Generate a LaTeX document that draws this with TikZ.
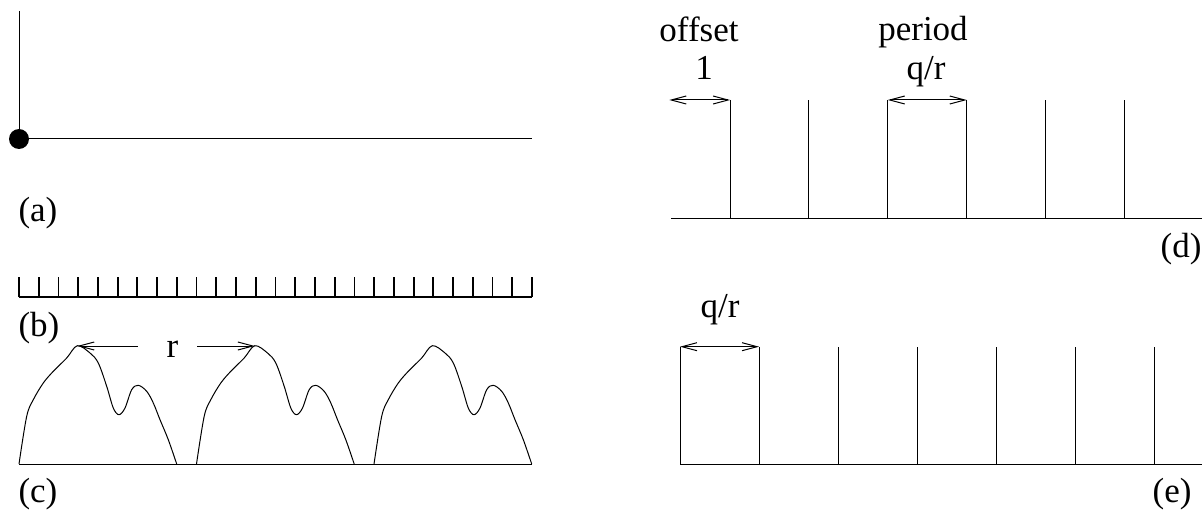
\documentclass[tikz,border=0pt]{standalone}
\usepackage{fontspec}
\setmainfont{Liberation Serif}
\usepackage{tikz}
\usetikzlibrary{arrows.meta}
\tikzset{
  barb/.style={-{Straight Barb[length=7.5pt,width=4pt]}},
  dimline/.style={{Straight Barb[length=7.5pt,width=4pt]}-{Straight Barb[length=7.5pt,width=4pt]}},
  lbl/.style={anchor=base,inner sep=0pt},
  ruler/.style={line width=0.9pt},
}
\begin{document}
\begin{tikzpicture}[x=0.5pt,y=-0.5pt,line width=0.5pt,font=\fontsize{17.5}{21}\selectfont]
\useasboundingbox (0,0) rectangle (1202,513);
% (a) axes
\begin{scope}
\coordinate (o) at (19,139);
\draw (19,11) -- (o) -- (532,139);
\fill (o) circle (5pt);
\node[lbl,anchor=base west] (la) at (18,221) {(a)};
\end{scope}
% (b) ruler
\begin{scope}
\draw[ruler] (19,297) -- (532,297);
\foreach \i in {0,...,26}
  \draw[ruler] (19+19.73*\i,297) -- ++(0,-20);
\node[lbl,anchor=base west] (lb) at (18,336) {(b)};
\end{scope}
% (c) periodic humps
\begin{scope}
\draw (19,464) -- (532,464);
\foreach \k in {0,1,2}
  \draw[shift={(19+177.5*\k,464)}] plot[smooth,tension=0.55] coordinates
    {(0,0) (7.7,-47.7) (14.3,-64.3) (24.3,-81) (34.3,-92.7) (47.7,-106) (58.3,-118.3)
     (71,-111) (79.3,-101) (87.7,-77.7) (94.3,-56) (100,-49.3) (106,-56) (112.7,-74.3)
     (119.3,-78.7) (127.7,-72.7) (134.3,-61) (141,-44.3) (149.3,-24.3) (157.7,0)};
\coordinate (peakA) at (77.3,346);
\coordinate (peakB) at (254.8,346);
\coordinate (rL) at (137.7,346);
\coordinate (rR) at (197.3,346);
\node[lbl] (rlab) at (172.5,357) {r};
\draw[barb] (rL) -- (peakA);
\draw[barb] (rR) -- (peakB);
\node[lbl,anchor=base west] (lc) at (18,502.6) {(c)};
\end{scope}
% (d) shifted pulses
\begin{scope}
\draw (671,218.3) -- (1202,218.3);
\foreach \i in {0,...,5}
  \draw (730+78.9*\i,218.3) -- (730+78.9*\i,100) coordinate (d\i);
\coordinate (offL) at (669.3,100);
\draw[dimline] (offL) -- (d0);
\draw[dimline] (d2) -- (d3);
\node[lbl] (off) at (699,41.5) {offset};
\node[lbl] (offval) at (704,80) {1};
\node[lbl] (per) at (923,41) {period};
\node[lbl] (perval) at (926,80) {q/r};
\node[lbl,anchor=base east] (ld) at (1202,257) {(d)};
\end{scope}
% (e) pulses from zero
\begin{scope}
\draw (680,464.3) -- (1202,464.3);
\foreach \i in {0,...,6}
  \draw (680+79*\i,464.3) -- (680+79*\i,346.7) coordinate (e\i);
\draw[dimline] (e0) -- (e1);
\node[lbl] (qr) at (720,317) {q/r};
\node[lbl,anchor=base east] (le) at (1192,502) {(e)};
\end{scope}
\end{tikzpicture}
\end{document}
